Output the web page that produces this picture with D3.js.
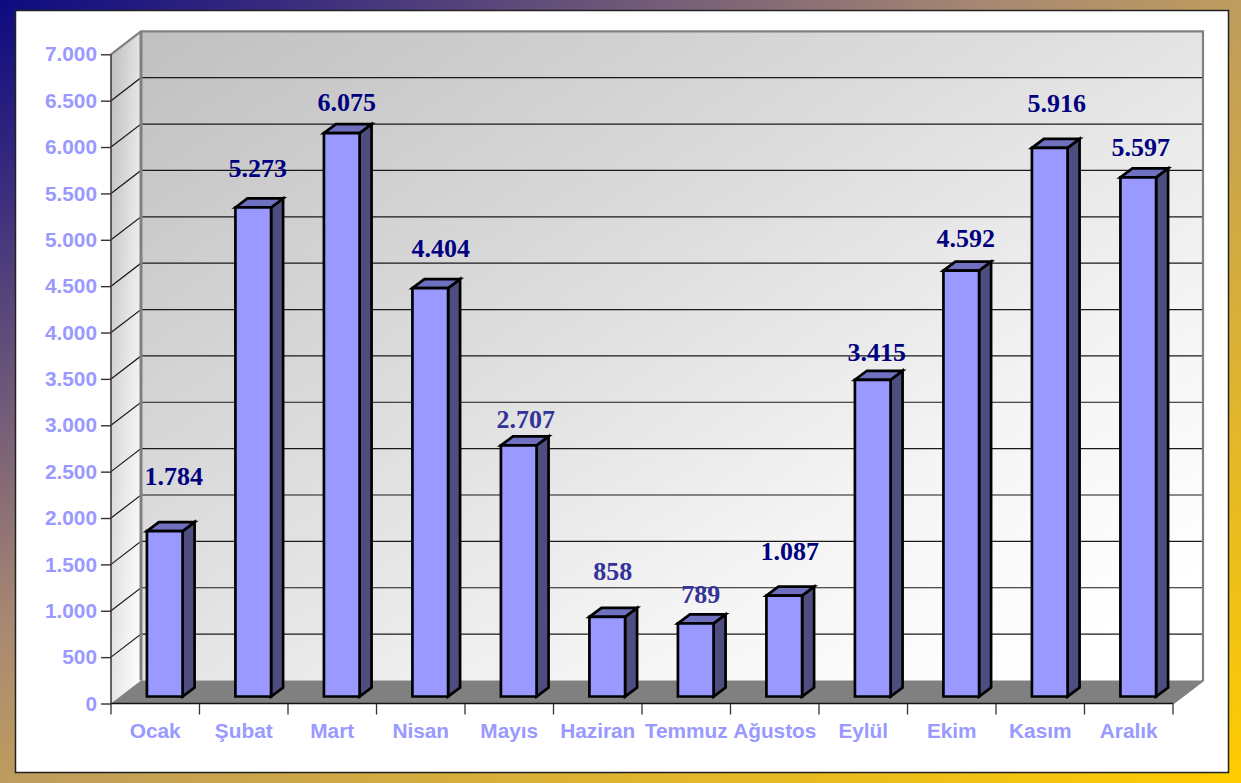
<!DOCTYPE html>
<html><head><meta charset="utf-8">
<script src="https://cdn.jsdelivr.net/npm/d3@7"></script>
<style>html,body{margin:0;padding:0;background:#fff}svg{display:block}</style>
</head><body><svg id="c" width="1241" height="783"></svg>
<script>
const months = ["Ocak","Şubat","Mart","Nisan","Mayıs","Haziran","Temmuz","Ağustos","Eylül","Ekim","Kasım","Aralık"];
const values = [1784,5273,6075,4404,2707,858,789,1087,3415,4592,5916,5597];
const yTicks = [0,500,1000,1500,2000,2500,3000,3500,4000,4500,5000,5500,6000,6500,7000];
const labelLift = [46,30,22,31,17,37,20,36,19,24,36,21];
const labelShift = [9,4.5,5,10.5,7,5.5,5,5.5,4,4.5,7,2.5];
const lighterLabels = ["Mayıs","Haziran","Temmuz"];

const W=1241,H=783;
const depth={x:30,y:-23}, barDepth={x:12,y:-9}, barBase={x:9.5,y:-7};
const x0=111,x1=1173;
const y=d3.scaleLinear().domain([0,7000]).range([703.5,54.3]);
const xCat=d3.scaleBand().domain(months).range([x0,x1]);
const xBar=d3.scaleBand().domain(months).range([x0,x1]).paddingInner(0.597).paddingOuter(0.2985);
const fmt=v=>d3.format(",")(v).replace(/,/g,".");

const svg=d3.select("#c");
const defs=svg.append("defs");
function grad(id,x1g,y1g,x2g,y2g,stops){
  const g=defs.append("linearGradient").attr("id",id).attr("x1",x1g).attr("y1",y1g).attr("x2",x2g).attr("y2",y2g);
  stops.forEach(s=>g.append("stop").attr("offset",s[0]).attr("stop-color",s[1]));
}
grad("bg",0,0,1,1,[[0,"#0C0A80"],[0.12,"#3A2C7E"],[0.4,"#A88872"],[0.5,"#BE9C5E"],[1,"#FFCC00"]]);
grad("wall",0,0,1,1,[[0,"#C0C0C0"],[0.42,"#DEDEDE"],[0.7,"#F4F4F4"],[0.92,"#FFFFFF"],[1,"#FFFFFF"]]);
grad("side",0,0,1,1,[[0,"#BDBDBD"],[0.55,"#E8E8E8"],[1,"#FFFFFF"]]);

svg.append("rect").attr("width",W).attr("height",H).attr("fill","url(#bg)");
svg.append("rect").attr("x",15.5).attr("y",10.5).attr("width",1213).attr("height",762)
  .attr("fill","#fff").attr("stroke","#222").attr("stroke-width",1.5);

const line=d3.line();
const poly=(pts,fill,stroke,sw)=>svg.append("path").attr("d",line(pts)+"Z").attr("fill",fill)
  .attr("stroke",stroke||"none").attr("stroke-width",sw||0).attr("stroke-linejoin","round");

const yt=y(7000), yb=y(0);
poly([[x0,yt],[x0+depth.x,yt+depth.y],[x0+depth.x,yb+depth.y],[x0,yb]],"url(#side)");
poly([[x0+depth.x,yt+depth.y],[x1+depth.x,yt+depth.y],[x1+depth.x,yb+depth.y],[x0+depth.x,yb+depth.y]],"url(#wall)");
const grid=svg.append("g").attr("fill","none").attr("stroke","#1a1a1a").attr("stroke-width",1.2);
yTicks.filter(t=>t>0&&t<7000).forEach(t=>{
  grid.append("path").attr("d",line([[x0,y(t)],[x0+depth.x,y(t)+depth.y],[x1+depth.x,y(t)+depth.y]]));
});
poly([[x0,yb],[x0+depth.x,yb+depth.y],[x1+depth.x,yb+depth.y],[x1,yb]],"#808080");
svg.append("path").attr("d",line([[x0,yt],[x0+depth.x,yt+depth.y],[x1+depth.x,yt+depth.y],[x1+depth.x,yb+depth.y],[x1,yb]]))
  .attr("fill","none").attr("stroke","#808080").attr("stroke-width",2.2);
svg.append("path").attr("d",line([[x0+depth.x,yt+depth.y],[x0+depth.x,yb+depth.y]]))
  .attr("fill","none").attr("stroke","#808080").attr("stroke-width",3);

const bars=svg.append("g").selectAll("g").data(months).join("g");
bars.each(function(m,i){
  const g=d3.select(this), v=values[i];
  const l=xBar(m)+barBase.x, r=l+xBar.bandwidth(), b=y(0)+barBase.y, t=y(v)+barBase.y;
  const dx=barDepth.x, dy=barDepth.y;
  const p=(pts,fill)=>g.append("path").attr("d",line(pts)+"Z").attr("fill",fill).attr("stroke","#000").attr("stroke-width",2.7).attr("stroke-linejoin","miter");
  p([[r,t],[r+dx,t+dy],[r+dx,b+dy],[r,b]],"#4D4D80");
  p([[l,t],[l+dx,t+dy],[r+dx,t+dy],[r,t]],"#7070C0");
  p([[l,t],[r,t],[r,b],[l,b]],"#9999FF");
});

const axisLabel={ "font-family":"'Liberation Sans',Arial,sans-serif","font-weight":"700","font-size":"20.8px","fill":"#9999FF"};
const ay=svg.append("g").attr("transform",`translate(${x0},0)`)
  .call(d3.axisLeft(y).tickValues(yTicks).tickFormat(fmt).tickSize(10).tickPadding(4));
ay.select(".domain").attr("stroke","#333").attr("stroke-width",1.5).attr("d",`M0,${yt}V${yb}`);
ay.selectAll(".tick line").attr("stroke","#333").attr("stroke-width",1.4);
const ax=svg.append("g").attr("transform",`translate(0,${yb})`)
  .call(d3.axisBottom(xCat).tickSize(0).tickPadding(20));
ax.select(".domain").attr("stroke","#111").attr("stroke-width",1.5).attr("d",`M${x0},0H${x1}`);
ax.selectAll(".sep").data([...months.map(m=>xCat(m)),x1]).join("line").attr("class","sep")
  .attr("x1",d=>d).attr("x2",d=>d).attr("y1",0).attr("y2",11).attr("stroke","#333").attr("stroke-width",1.3);
[ay,ax].forEach(a=>{
  a.attr("font-family",null).attr("font-size",null);
  const tx=a.selectAll("text");
  Object.entries(axisLabel).forEach(([k,v])=>tx.style(k,v));
});

svg.append("g").selectAll("text").data(months).join("text")
  .attr("x",(m,i)=>xBar(m)+barBase.x+xBar.bandwidth()/2+labelShift[i])
  .attr("y",(m,i)=>y(values[i])+barBase.y-labelLift[i])
  .attr("text-anchor","middle")
  .attr("font-family","'Liberation Serif','Times New Roman',serif")
  .attr("font-weight",700).attr("font-size",26)
  .attr("fill",m=>lighterLabels.includes(m)?"#333399":"#000080")
  .text((m,i)=>fmt(values[i]));
</script></body></html>
